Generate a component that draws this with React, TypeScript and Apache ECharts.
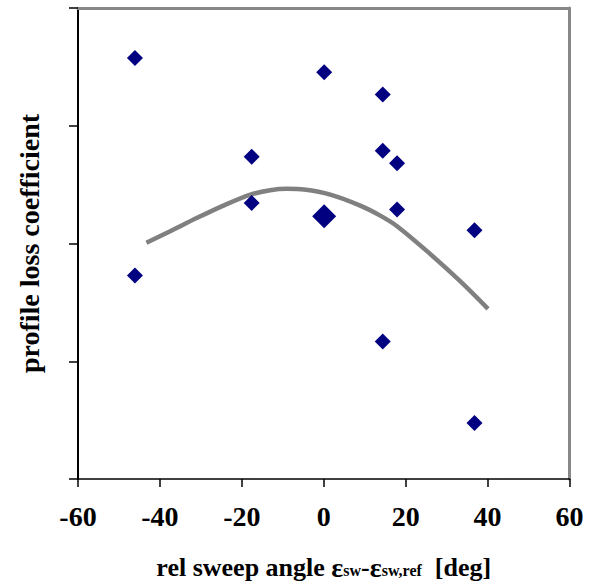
import React, { useEffect, useRef } from "react";
import * as echarts from "echarts";

const xTicks = [-60, -40, -20, 0, 20, 40, 60];
const measuredSmall: [number, number][] = [
  [-46.1, 3.576],
  [-46.1, 1.729],
  [-17.6, 2.737],
  [-17.6, 2.345],
  [0.1, 3.455],
  [14.4, 3.265],
  [14.4, 2.788],
  [14.4, 1.167],
  [17.9, 2.681],
  [17.9, 2.288],
  [36.8, 2.113],
  [36.8, 0.475],
];
const referencePoint: [number, number][] = [[0.1, 2.231]];
const trendCurve: [number, number][] = [
  [-43.3, 2.006],
  [-37.5, 2.104],
  [-30.9, 2.218],
  [-24.5, 2.322],
  [-17.9, 2.415],
  [-13.1, 2.452],
  [-9.0, 2.464],
  [-4.8, 2.458],
  [1.6, 2.415],
  [8.9, 2.322],
  [13.8, 2.237],
  [17.9, 2.147],
  [25.2, 1.935],
  [33.3, 1.68],
  [40.1, 1.445],
];

const FONT = "'Liberation Serif', 'Times New Roman', serif";

export default function App() {
  const ref = useRef<HTMLDivElement>(null);
  useEffect(() => {
    document.body.style.margin = "0";
    if (!ref.current) return;
    const chart = echarts.init(ref.current, undefined, { renderer: "svg" });
    chart.setOption({
      animation: false,
      backgroundColor: "#ffffff",
      grid: { left: 78, right: 23.5, top: 8, bottom: 106, containLabel: false },
      xAxis: [
        {
          type: "value",
          min: xTicks[0],
          max: xTicks[xTicks.length - 1],
          interval: 20,
          position: "bottom",
          splitLine: { show: false },
          axisLine: { show: true, onZero: false, lineStyle: { color: "#000", width: 1.5 } },
          axisTick: { show: true, inside: false, length: 8, lineStyle: { color: "#000", width: 1.5 } },
          axisLabel: {
            show: true,
            margin: 23,
            fontFamily: FONT,
            fontWeight: "bold",
            fontSize: 28,
            color: "#000",
          },
          name: "{n|rel sweep angle }{e|ε}{s|sw}{n|-}{e|ε}{s|sw,ref}{n|  [deg]}",
          nameLocation: "middle",
          nameGap: 74,
          nameTextStyle: {
            fontFamily: FONT,
            fontWeight: "bold",
            fontSize: 26,
            color: "#000",
            rich: {
              n: { fontFamily: FONT, fontWeight: "bold", fontSize: 26, color: "#000" },
              e: { fontFamily: FONT, fontWeight: "bold", fontSize: 28, color: "#000" },
              s: { fontFamily: FONT, fontWeight: "bold", fontSize: 16, color: "#000", padding: [6, 0, 0, 0] },
            },
          },
        },
        {
          type: "value",
          min: xTicks[0],
          max: xTicks[xTicks.length - 1],
          interval: 20,
          position: "top",
          splitLine: { show: false },
          axisLine: { show: true, onZero: false, lineStyle: { color: "#888", width: 3 } },
          axisTick: { show: false },
          axisLabel: { show: false },
        },
      ],
      yAxis: [
        {
          type: "value",
          min: 0,
          max: 4,
          interval: 1,
          position: "left",
          splitLine: { show: false },
          axisLine: { show: true, onZero: false, lineStyle: { color: "#000", width: 2 } },
          axisTick: { show: true, inside: false, length: 9, lineStyle: { color: "#000", width: 1.5 } },
          axisLabel: { show: false },
          name: "profile loss coefficient",
          nameLocation: "middle",
          nameRotate: 90,
          nameGap: 35,
          nameTextStyle: {
            fontFamily: FONT,
            fontWeight: "bold",
            fontSize: 28,
            color: "#000",
          },
        },
        {
          type: "value",
          min: 0,
          max: 4,
          interval: 1,
          position: "right",
          splitLine: { show: false },
          axisLine: { show: true, onZero: false, lineStyle: { color: "#888", width: 3 } },
          axisTick: { show: false },
          axisLabel: { show: false },
        },
      ],
      series: [
        {
          name: "trend",
          type: "line",
          data: trendCurve,
          smooth: 0.3,
          showSymbol: false,
          symbol: "none",
          lineStyle: { color: "#808080", width: 4.5 },
          z: 2,
        },
        {
          name: "measured",
          type: "scatter",
          data: measuredSmall,
          symbol: "diamond",
          symbolSize: 16,
          itemStyle: { color: "#000080", opacity: 1 },
          z: 3,
        },
        {
          name: "reference",
          type: "scatter",
          data: referencePoint,
          symbol: "diamond",
          symbolSize: 24,
          itemStyle: { color: "#000080", opacity: 1 },
          z: 3,
        },
      ],
    });
    return () => chart.dispose();
  }, []);
  return <div ref={ref} style={{ width: 593, height: 586 }} />;
}
